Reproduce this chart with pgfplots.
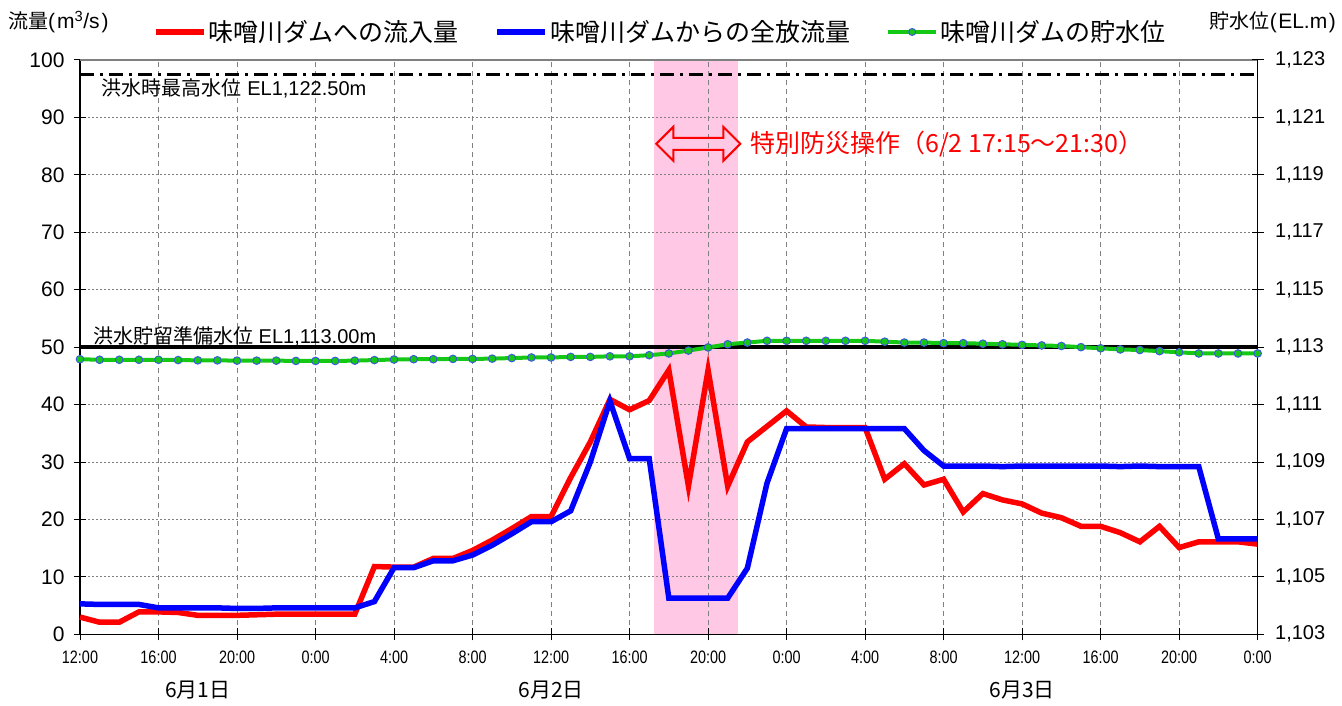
\documentclass[border=0pt]{standalone}
\usepackage{fontspec}
\setmainfont{Liberation Sans}
\newfontfamily\jp{Noto Sans CJK JP}
\newfontfamily\narrow{Liberation Sans}[FakeStretch=0.8]
\usepackage{pgfplots}
\usepackage{pgfplotstable}
\pgfplotsset{compat=1.18}
\usetikzlibrary{shapes.arrows}

\definecolor{cRed}{RGB}{255,0,0}
\definecolor{cBlue}{RGB}{0,0,255}
\definecolor{cGreen}{RGB}{20,200,20}
\definecolor{cMark}{RGB}{60,90,220}
\definecolor{cPink}{RGB}{255,200,228}
\definecolor{cGrid}{RGB}{128,128,128}

\pgfplotstableread{
h in out
0 3.0 5.3
1 2.1 5.2
2 2.1 5.2
3 3.9 5.2
4 3.9 4.6
5 3.8 4.6
6 3.3 4.6
7 3.3 4.6
8 3.3 4.5
9 3.4 4.5
10 3.5 4.6
11 3.5 4.6
12 3.5 4.6
13 3.5 4.6
14 3.5 4.6
15 11.8 5.7
16 11.7 11.6
17 11.7 11.6
18 13.2 12.8
19 13.2 12.8
20 14.6 13.8
21 16.4 15.5
22 18.4 17.5
23 20.5 19.6
24 20.5 19.6
25 27.3 21.5
26 33.5 30.0
27 40.9 40.6
28 39.1 30.6
29 40.7 30.6
30 46.0 6.3
31 25.8 6.3
32 46.0 6.3
33 25.8 6.3
34 33.5 11.5
35 36.2 26.3
36 38.9 35.8
37 36.1 35.8
38 36.0 35.8
39 36.0 35.8
40 36.0 35.8
41 27.0 35.8
42 29.7 35.8
43 26.0 32.0
44 27.0 29.3
45 21.3 29.3
46 24.5 29.3
47 23.4 29.2
48 22.7 29.3
49 21.1 29.3
50 20.3 29.3
51 18.8 29.3
52 18.8 29.3
53 17.7 29.2
54 16.1 29.3
55 18.8 29.2
56 15.1 29.2
57 16.1 29.2
58 16.1 16.6
59 16.1 16.6
60 15.7 16.6
}\flowtable

\pgfplotstableread{
h el
0 1112.58
1 1112.56
2 1112.56
3 1112.56
4 1112.56
5 1112.55
6 1112.54
7 1112.54
8 1112.53
9 1112.53
10 1112.53
11 1112.52
12 1112.52
13 1112.52
14 1112.53
15 1112.55
16 1112.57
17 1112.58
18 1112.58
19 1112.59
20 1112.59
21 1112.60
22 1112.62
23 1112.64
24 1112.64
25 1112.66
26 1112.66
27 1112.68
28 1112.68
29 1112.72
30 1112.78
31 1112.88
32 1112.99
33 1113.10
34 1113.16
35 1113.22
36 1113.22
37 1113.22
38 1113.22
39 1113.22
40 1113.22
41 1113.19
42 1113.16
43 1113.16
44 1113.14
45 1113.14
46 1113.12
47 1113.10
48 1113.08
49 1113.06
50 1113.04
51 1113.00
52 1112.96
53 1112.92
54 1112.90
55 1112.86
56 1112.82
57 1112.78
58 1112.78
59 1112.78
60 1112.78
}\leveltable

\begin{document}
\begin{tikzpicture}
\path (0,0) rectangle (1342pt,706pt);
\begin{axis}[
  set layers,
  scale only axis, width=1177.7pt, height=574.3pt,
  at={(80pt,71.7pt)}, anchor=south west,
  xmin=0, xmax=60, ymin=0, ymax=100,
  xtick={0,4,...,60},
  xticklabels={12:00,16:00,20:00,0:00,4:00,8:00,12:00,16:00,20:00,0:00,4:00,8:00,12:00,16:00,20:00,0:00},
  ytick={0,10,...,100},
  axis x line*=bottom, axis y line*=left,
  axis line style={line width=1.5pt, black},
  tick style={black, line width=1pt},
  tick align=center, major tick length=12pt,
  xmajorgrids, ymajorgrids,
  x grid style={cGrid, line width=1pt, dash pattern=on 5pt off 4pt},
  y grid style={cGrid, line width=1pt, dash pattern=on 2pt off 2pt},
  /pgf/number format/assume math mode=true,
  yticklabel style={font=\fontsize{21}{24}\selectfont, xshift=-6pt},
  xticklabel style={font=\narrow\fontsize{18}{20}\selectfont, yshift=-7pt},
  clip=false,
  legend columns=3,
  legend style={draw=none, fill=none, at={(0.0620,1.0488)}, anchor=west, inner sep=0pt,
    font=\jp\fontsize{25}{30}\selectfont,
    /tikz/every even column/.append style={column sep=34pt}},
  legend image code/.code={\draw[#1] (0pt,0pt) -- (48pt,0pt);},
]
\addplot[on layer=axis background, draw=none, fill=cPink, forget plot]
  coordinates {(29.25,0) (29.25,100) (33.5,100) (33.5,0)} -- cycle;
\addplot[forget plot, black, line width=4pt] coordinates {(0,50) (60,50)};
\addplot[forget plot, black, line width=3pt, dash pattern=on 14pt off 6pt on 3pt off 6pt]
  coordinates {(0,97.5) (60,97.5)};
\addplot[cRed, line width=5.5pt] table[x=h,y=in]{\flowtable};
\addlegendentry{味噌川ダムへの流入量}
\addplot[cBlue, line width=5.5pt] table[x=h,y=out]{\flowtable};
\addlegendentry{味噌川ダムからの全放流量}
\addlegendimage{legend image code/.code={\draw[cGreen, line width=4pt] (0pt,0pt) -- (48pt,0pt);
  \draw[cMark, fill=cGreen, line width=1pt] (24pt,0pt) circle (3.5pt);}}
\addlegendentry{味噌川ダムの貯水位}
\draw[cGrid, line width=1.5pt] (rel axis cs:0,1) -- (rel axis cs:1,1);
\node[anchor=west, font=\fontsize{20}{24}\selectfont, inner sep=0pt] at (axis cs:1.1,95) {{\jp 洪水時最高水位} EL1,122.50m};
\node[anchor=west, font=\fontsize{20}{24}\selectfont, inner sep=0pt] at (axis cs:0.66,51.9) {{\jp 洪水貯留準備水位} EL1,113.00m};
\node[double arrow, draw=cRed, line width=2pt, minimum height=84pt, inner xsep=0pt, inner ysep=5pt,
  double arrow head extend=11pt] at (axis cs:31.5,85.4) {};
\node[anchor=west, text=cRed, font=\jp\fontsize{25}{30}\selectfont, inner sep=0pt] at (axis cs:34.14,85.4) {特別防災操作（6/2 17:15〜21:30）};
\node[font=\jp\fontsize{21}{24}\selectfont] at (axis cs:6,-9.7) {6月1日};
\node[font=\jp\fontsize{21}{24}\selectfont] at (axis cs:24,-9.7) {6月2日};
\node[font=\jp\fontsize{21}{24}\selectfont] at (axis cs:48,-9.7) {6月3日};
\end{axis}
\begin{axis}[
  scale only axis, width=1177.7pt, height=574.3pt,
  at={(80pt,71.7pt)}, anchor=south west,
  xmin=0, xmax=60, ymin=1103, ymax=1123,
  ytick={1103,1105,...,1123},
  axis x line=none, axis y line*=right,
  axis line style={line width=1.5pt, black},
  tick style={black, line width=1pt},
  tick align=center, major tick length=12pt,
  /pgf/number format/assume math mode=true,
  /pgf/number format/1000 sep={,},
  yticklabel style={font=\fontsize{20}{24}\selectfont, xshift=8pt},
  clip=false,
]
\addplot[cGreen, line width=4pt, mark=*, mark size=3.8pt,
  mark options={draw=cMark, fill=cGreen, line width=1pt}] table[x=h,y=el]{\leveltable};
\end{axis}
\node[anchor=west, inner sep=0pt] at (8pt,684pt) {{\jp\fontsize{20}{22}\selectfont 流量}{\fontsize{21}{22}\selectfont(\kern2pt m\textsuperscript{3}/s\kern2pt)}};
\node[anchor=east, inner sep=0pt] at (1336pt,684pt) {{\jp\fontsize{20}{22}\selectfont 貯水位}{\fontsize{21}{22}\selectfont(\kern1.5pt EL.m\kern1.5pt)}};
\end{tikzpicture}
\end{document}
